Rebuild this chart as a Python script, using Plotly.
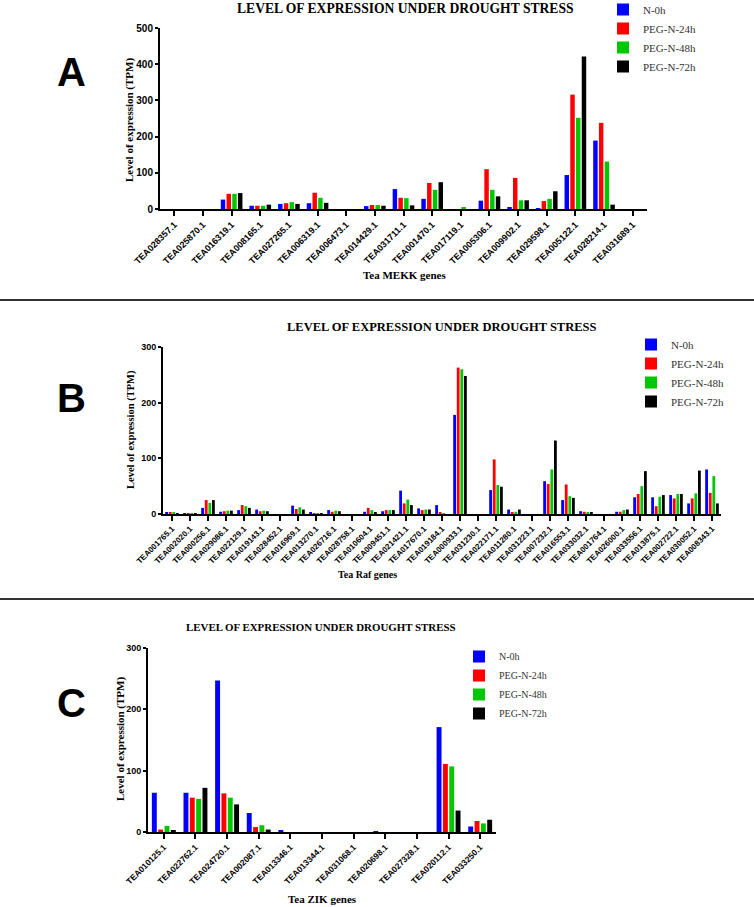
import plotly.graph_objects as go

W, H = 754, 907

series = ["N-0h", "PEG-N-24h", "PEG-N-48h", "PEG-N-72h"]
colors = ["#0000FF", "#FF0000", "#00C800", "#000000"]

# ---------------- Panel A: Tea MEKK genes ----------------
mekk_genes = ["TEA028357.1", "TEA025870.1", "TEA016319.1", "TEA008165.1", "TEA027265.1",
              "TEA006319.1", "TEA006473.1", "TEA014429.1", "TEA031711.1", "TEA001470.1",
              "TEA017119.1", "TEA005306.1", "TEA009902.1", "TEA029598.1", "TEA005122.1",
              "TEA028214.1", "TEA031689.1"]
mekk_n0 = [0, 0, 26, 9, 14, 16, 0, 8, 55, 28, 0, 23, 3, 2, 94, 189, 0]
mekk_24 = [0, 0, 42, 9, 16, 45, 0, 11, 31, 72, 0, 110, 86, 22, 316, 238, 0]
mekk_48 = [0, 0, 42, 9, 19, 31, 0, 11, 30, 53, 3, 53, 24, 28, 252, 131, 0]
mekk_72 = [0, 0, 44, 12, 14, 17, 0, 9, 10, 74, 0, 35, 24, 49, 421, 12, 0]

# ---------------- Panel B: Tea Raf genes ----------------
raf_genes = ["TEA001765.1", "TEA002020.1", "TEA000256.1", "TEA029086.1", "TEA022129.1",
             "TEA019143.1", "TEA028452.1", "TEA016969.1", "TEA013270.1", "TEA026716.1",
             "TEA028758.1", "TEA010604.1", "TEA009451.1", "TEA021421.1", "TEA017670.1",
             "TEA019184.1", "TEA000933.1", "TEA031230.1", "TEA022171.1", "TEA011280.1",
             "TEA031223.1", "TEA007232.1", "TEA016553.1", "TEA033032.1", "TEA001764.1",
             "TEA026000.1", "TEA033556.1", "TEA013875.1", "TEA002722.1", "TEA030052.1",
             "TEA008343.1"]
raf_n0 = [3, 0.5, 11, 4, 7, 8, 0, 15, 2, 7, 0, 4, 5, 42, 10, 16, 178, 0, 43, 8,
          0, 59, 25, 5, 0, 4, 30, 30, 34, 19, 80]
raf_24 = [2, 0.5, 25, 5, 16, 5, 0, 9, 1, 4, 0, 11, 7, 19, 7, 3, 263, 0, 98, 2,
          0, 54, 53, 4, 0, 4, 36, 14, 28, 28, 38]
raf_48 = [3, 0.5, 20, 6, 14, 6, 0, 12, 1, 6, 0, 7, 7, 26, 8, 1, 260, 0, 52, 4,
          0, 80, 32, 2, 0, 7, 50, 31, 36, 37, 68]
raf_72 = [1, 0.5, 25, 6, 11, 5, 0, 8, 0.5, 5, 0, 3, 7, 16, 8, 0, 248, 0, 49, 8,
          0, 132, 29, 2, 0, 8, 77, 34, 36, 78, 19]

# ---------------- Panel C: Tea ZIK genes ----------------
zik_genes = ["TEA010125.1", "TEA022762.1", "TEA024720.1", "TEA002087.1", "TEA013346.1",
             "TEA013344.1", "TEA031068.1", "TEA020698.1", "TEA027328.1", "TEA020112.1",
             "TEA033250.1"]
zik_n0 = [64, 64, 247, 31, 3, 0, 0, 1.5, 0, 171, 9]
zik_24 = [4, 56, 63, 8, 0, 0, 0, 0, 0, 111, 18]
zik_48 = [10, 54, 56, 11, 0, 0, 0, 0, 0, 107, 14]
zik_72 = [2, 72, 45, 4, 0, 0, 0, 0, 0, 35, 20]

panels = [
    dict(genes=mekk_genes, vals=[mekk_n0, mekk_24, mekk_48, mekk_72], ymax=500,
         box=(160, 647, 28, 209), legend="legend", tickfs=9, ytickfs=10),
    dict(genes=raf_genes, vals=[raf_n0, raf_24, raf_48, raf_72], ymax=300,
         box=(163, 721, 347, 514), legend="legend2", tickfs=8, ytickfs=9),
    dict(genes=zik_genes, vals=[zik_n0, zik_24, zik_48, zik_72], ymax=300,
         box=(148, 496, 648, 832), legend="legend3", tickfs=8.5, ytickfs=9),
]

fig = go.Figure()
layout = dict(width=W, height=H, margin=dict(l=0, r=0, t=0, b=0, autoexpand=False),
              paper_bgcolor="white", plot_bgcolor="white",
              barmode="group", bargap=0.2, bargroupgap=0.22)

for i, p in enumerate(panels):
    sfx = "" if i == 0 else str(i + 1)
    x0, x1, y0, y1 = p["box"]
    for s, name in enumerate(series):
        fig.add_trace(go.Bar(
            x=p["genes"], y=p["vals"][s], name=name,
            marker=dict(color=colors[s], line=dict(width=0)),
            xaxis="x" + sfx, yaxis="y" + sfx, legend=p["legend"],
        ))
    layout["xaxis" + sfx] = dict(
        domain=[x0 / W, x1 / W], anchor="y" + sfx, type="category",
        range=[-0.5, len(p["genes"]) - 0.5], automargin=False,
        showline=True, linecolor="black", linewidth=2,
        ticks="outside", ticklen=5, tickwidth=1.5, tickcolor="black",
        tickangle=-45, showgrid=False,
        tickfont=dict(family="Liberation Sans", size=p["tickfs"], color="black", weight="bold"),
    )
    layout["yaxis" + sfx] = dict(
        domain=[1 - y1 / H, 1 - y0 / H], anchor="x" + sfx, automargin=False,
        range=[0, p["ymax"]], dtick=100,
        showline=True, linecolor="black", linewidth=2,
        ticks="outside", ticklen=3, tickwidth=1.5, tickcolor="black",
        showgrid=False, zeroline=False, ticklabelstandoff=0,
        tickfont=dict(family="Liberation Sans", size=p["ytickfs"], color="black", weight="bold"),
    )

leg_common = dict(bgcolor="rgba(0,0,0,0)", borderwidth=0, xanchor="left", yanchor="top",
                  itemsizing="constant")
layout["legend"] = dict(x=603 / W, y=1 + 5 / H,
                        font=dict(family="Liberation Serif", size=11, color="#333"), **leg_common)
layout["legend2"] = dict(x=631 / W, y=1 - 330 / H,
                         font=dict(family="Liberation Serif", size=11, color="#333"), **leg_common)
layout["legend3"] = dict(x=459 / W, y=1 - 642 / H,
                         font=dict(family="Liberation Serif", size=10, color="#333"), **leg_common)

serif_b = dict(family="Liberation Serif", color="black", weight="bold")
sans_b = dict(family="Liberation Sans", color="black", weight="bold")
ann = []
def text(x, y, s, size, font=serif_b, angle=0):
    ann.append(dict(x=x / W, y=1 - y / H, xref="paper", yref="paper", text=s,
                    showarrow=False, textangle=angle, xanchor="center", yanchor="middle",
                    font=dict(size=size, **font)))

title = "LEVEL OF EXPRESSION UNDER DROUGHT STRESS"
text(405, 9, title, 13.6)
text(442, 327, title, 12.5)
text(321, 627, title, 10.9)
text(129, 120, "Level of expression (TPM)", 11, angle=-90)
text(131, 430, "Level of expression (TPM)", 10.5, angle=-90)
text(120, 739, "Level of expression (TPM)", 11, angle=-90)
text(404, 275, "Tea MEKK genes", 11)
text(367, 574, "Tea Raf genes", 10)
text(322, 899, "Tea ZIK genes", 11)
text(71, 72, "A", 40, font=sans_b)
text(71, 398, "B", 40, font=sans_b)
text(71, 703, "C", 40, font=sans_b)
layout["annotations"] = ann

layout["shapes"] = [
    dict(type="line", xref="paper", yref="paper", x0=0, x1=1, y0=1 - 300 / H, y1=1 - 300 / H,
         line=dict(color="#333333", width=2)),
    dict(type="line", xref="paper", yref="paper", x0=0, x1=1, y0=1 - 599 / H, y1=1 - 599 / H,
         line=dict(color="#333333", width=2)),
]

fig.update_layout(**layout)
fig.write_html("out.html", config={"displayModeBar": False},
               post_script="document.body.style.margin='0';document.body.style.overflow='hidden';")
